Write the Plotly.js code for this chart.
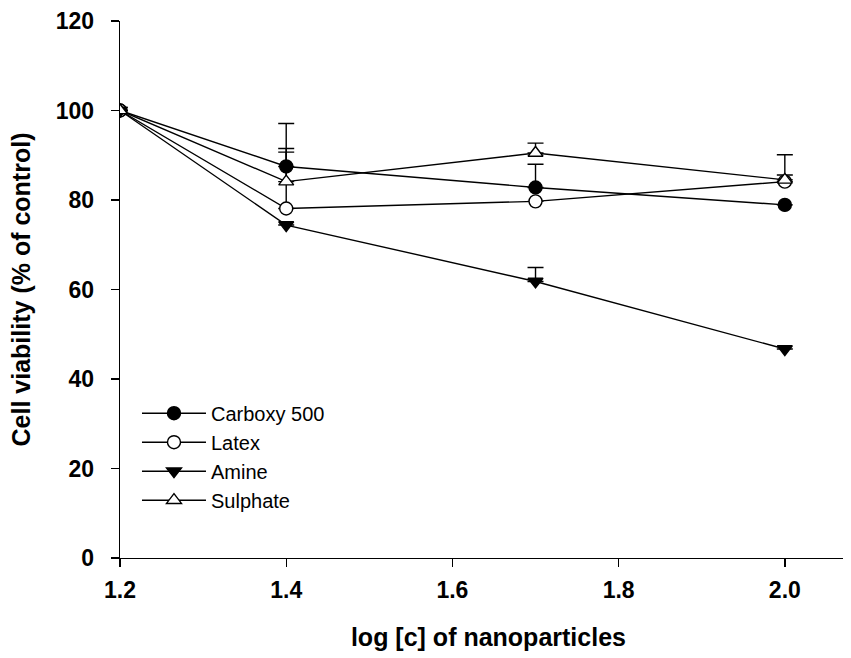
<!DOCTYPE html>
<html>
<head>
<meta charset="utf-8">
<script src="https://cdn.plot.ly/plotly-3.0.1.min.js"></script>
<style>html,body{margin:0;padding:0;background:#fff}#chart{width:851px;height:658px}</style>
</head>
<body>
<div id="chart"></div>
<script>
const xVals = [1.2, 1.4, 1.7, 2.0];
const carboxy = [100, 87.5, 82.8, 78.9];
const carboxyErr = [0, 9.6, 5.2, 0];
const latex = [100, 78.1, 79.7, 84.1];
const latexErr = [0, 12.6, 0, 1.5];
const amine = [100, 74.4, 61.8, 46.7];
const amineErr = [0, 0, 3.1, 0];
const sulphate = [100, 84.1, 90.5, 84.5];
const sulphateErr = [0, 7.4, 2.2, 5.6];
const names = ['Carboxy 500', 'Latex', 'Amine', 'Sulphate'];
const xTicks = [1.2, 1.4, 1.6, 1.8, 2.0];
const yTicks = [0, 20, 40, 60, 80, 100, 120];

const font = 'Arial, "Liberation Sans", sans-serif';
function tr(name, y, err, symbol, fill) {
  return {
    x: xVals, y: y, name: name, type: 'scatter', mode: 'lines+markers',
    line: {color: '#000', width: 1.4},
    marker: {symbol: symbol, size: 13, color: fill, line: {color: '#000', width: 1.4}},
    error_y: {type: 'data', symmetric: false, array: err, arrayminus: err.map(() => 0),
              color: '#000', thickness: 1.4, width: 8}
  };
}
const data = [
  tr(names[0], carboxy, carboxyErr, 'circle', '#000'),
  tr(names[1], latex, latexErr, 'circle', '#fff'),
  tr(names[2], amine, amineErr, 'triangle-down', '#000'),
  tr(names[3], sulphate, sulphateErr, 'triangle-up', '#fff')
];
const layout = {
  width: 851, height: 658,
  margin: {l: 120, r: 8, t: 21, b: 100},
  paper_bgcolor: '#fff', plot_bgcolor: '#fff',
  font: {family: font, color: '#000'},
  showlegend: true,
  legend: {x: 0.0235, y: 0.306, xanchor: 'left', yanchor: 'top', bgcolor: 'rgba(0,0,0,0)',
           font: {size: 20, family: font}, tracegroupgap: 0, itemwidth: 64},
  xaxis: {
    range: [1.2, 2.07], tickvals: xTicks, ticktext: xTicks.map(v => v.toFixed(1)),
    showgrid: false, zeroline: false, showline: true, linecolor: '#000', linewidth: 1.4,
    ticks: 'outside', ticklen: 8, tickwidth: 1.4, tickcolor: '#000', ticklabelstandoff: 3,
    tickfont: {size: 23, family: font, weight: 'bold'},
    title: {text: '<b>&nbsp;&nbsp;log [c] of nanoparticles</b>', font: {size: 25, family: font}, standoff: 26}
  },
  yaxis: {
    range: [0, 120], tickvals: yTicks,
    showgrid: false, zeroline: false, showline: true, linecolor: '#000', linewidth: 1.4,
    ticks: 'outside', ticklen: 8, tickwidth: 1.4, tickcolor: '#000', ticklabelstandoff: 12,
    tickfont: {size: 23, family: font, weight: 'bold'},
    title: {text: '<b>Cell viability (% of control)</b>', font: {size: 25, family: font}, standoff: 18}
  }
};
Plotly.newPlot('chart', data, layout, {displayModeBar: false, staticPlot: true});
</script>
</body>
</html>
